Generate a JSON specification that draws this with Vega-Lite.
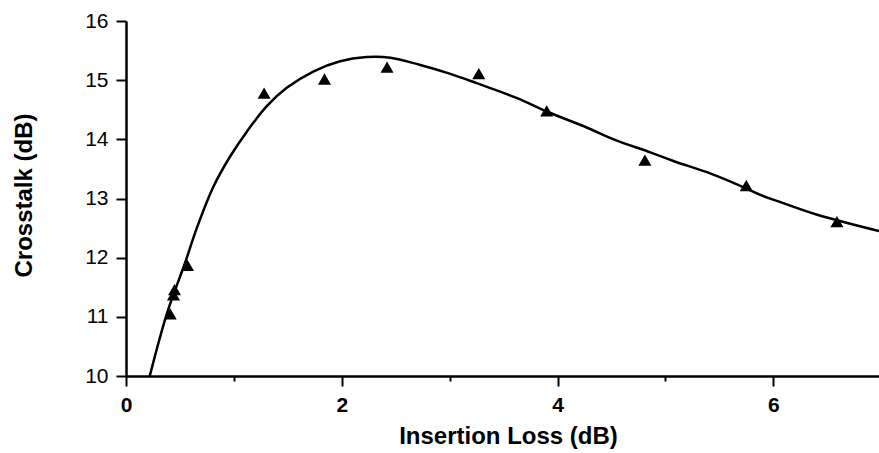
{
  "$schema": "https://vega.github.io/schema/vega-lite/v6.json",
  "width": 753,
  "height": 355,
  "autosize": {"type": "none"},
  "padding": {"left": 126, "top": 21, "right": 0, "bottom": 77},
  "background": "white",
  "config": {
    "view": {"stroke": null},
    "font": "Liberation Sans"
  },
  "datasets": {
    "curve": [
      {"x": 0.22, "y": 10.0},
      {"x": 0.38, "y": 11.06},
      {"x": 0.547, "y": 11.91},
      {"x": 0.656, "y": 12.5},
      {"x": 0.81, "y": 13.2},
      {"x": 0.965, "y": 13.71},
      {"x": 1.12, "y": 14.13},
      {"x": 1.305, "y": 14.56},
      {"x": 1.49, "y": 14.87},
      {"x": 1.74, "y": 15.15},
      {"x": 1.985, "y": 15.32},
      {"x": 2.23, "y": 15.39},
      {"x": 2.45, "y": 15.38},
      {"x": 2.72, "y": 15.26},
      {"x": 3.0, "y": 15.11},
      {"x": 3.25, "y": 14.95},
      {"x": 3.62, "y": 14.7},
      {"x": 3.9, "y": 14.47},
      {"x": 4.27, "y": 14.2},
      {"x": 4.52, "y": 14.0},
      {"x": 4.86, "y": 13.78},
      {"x": 5.08, "y": 13.63},
      {"x": 5.42, "y": 13.42},
      {"x": 5.7, "y": 13.21},
      {"x": 5.88, "y": 13.06},
      {"x": 6.08, "y": 12.93},
      {"x": 6.4, "y": 12.73},
      {"x": 6.98, "y": 12.45}
    ],
    "points": [
      {"x": 0.41, "y": 11.05},
      {"x": 0.44, "y": 11.37},
      {"x": 0.45, "y": 11.46},
      {"x": 0.57, "y": 11.87},
      {"x": 1.28, "y": 14.78},
      {"x": 1.84, "y": 15.02},
      {"x": 2.42, "y": 15.22},
      {"x": 3.27, "y": 15.11},
      {"x": 3.9, "y": 14.48},
      {"x": 4.81, "y": 13.65},
      {"x": 5.75, "y": 13.22},
      {"x": 6.59, "y": 12.61}
    ]
  },
  "layer": [
    {
      "mark": {"type": "rule", "color": "black", "strokeWidth": 2.5},
      "encoding": {"y": {"datum": 16, "type": "quantitative", "scale": {"domain": [10, 16]}}}
    },
    {
      "data": {"name": "curve"},
      "mark": {"type": "line", "color": "black", "strokeWidth": 2.5, "interpolate": "catmull-rom", "clip": true},
      "encoding": {
        "x": {
          "field": "x", "type": "quantitative",
          "scale": {"domain": [0, 6.98], "nice": false, "zero": false},
          "axis": {
            "title": "Insertion Loss (dB)",
            "values": [0, 1, 2, 3, 4, 5, 6],
            "format": "d",
            "labelExpr": "datum.value % 2 === 0 ? datum.label : ''",
            "grid": false,
            "domainColor": "black", "domainWidth": 2.5,
            "tickColor": "black", "tickWidth": 2,
            "tickSize": {"condition": {"test": "datum.value % 2 === 0", "value": 10}, "value": 5},
            "labelFont": "Liberation Sans", "labelFontSize": 21, "labelFontWeight": "bold",
            "labelColor": "black", "labelPadding": 8, "labelOverlap": false, "labelFlush": false,
            "titleFont": "Liberation Sans", "titleFontSize": 24, "titleFontWeight": "bold",
            "titleColor": "black", "titleX": 382, "titleY": 60, "titleBaseline": "middle", "titleAnchor": "middle", "titleAlign": "center"
          }
        },
        "y": {
          "field": "y", "type": "quantitative",
          "scale": {"domain": [10, 16], "nice": false, "zero": false},
          "axis": {
            "title": "Crosstalk (dB)",
            "values": [10, 10.5, 11, 11.5, 12, 12.5, 13, 13.5, 14, 14.5, 15, 15.5, 16],
            "format": "~g",
            "labelExpr": "datum.value % 1 === 0 ? datum.label : ''",
            "grid": false,
            "domainColor": "black", "domainWidth": 2.5,
            "tickColor": "black", "tickWidth": 2,
            "tickSize": {"condition": {"test": "datum.value % 1 === 0", "value": 10}, "value": 4},
            "labelFont": "Liberation Sans", "labelFontSize": 21, "labelColor": "black",
            "labelPadding": 8, "labelOverlap": false, "labelFlush": false,
            "titleFont": "Liberation Sans", "titleFontSize": 24, "titleFontWeight": "bold",
            "titleColor": "black", "titleX": -102, "titleY": 174, "titleAngle": -90,
            "titleBaseline": "middle", "titleAlign": "center"
          }
        }
      }
    },
    {
      "data": {"name": "points"},
      "mark": {"type": "point", "shape": "triangle-up", "filled": true, "color": "black", "size": 170, "opacity": 1},
      "encoding": {
        "x": {"field": "x", "type": "quantitative"},
        "y": {"field": "y", "type": "quantitative"}
      }
    }
  ]
}
